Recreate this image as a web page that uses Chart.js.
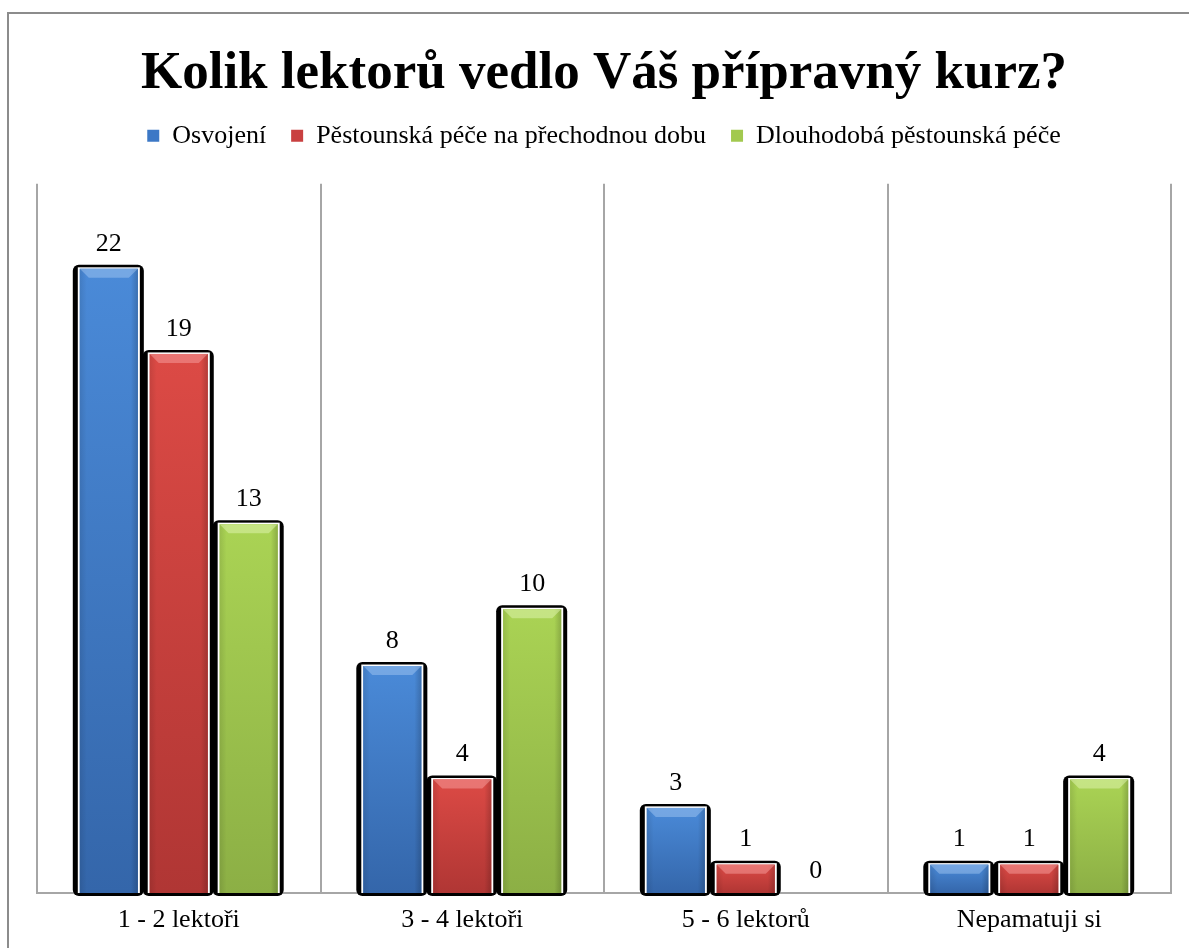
<!DOCTYPE html>
<html>
<head>
<meta charset="utf-8">
<title>Kolik lektorů vedlo Váš přípravný kurz?</title>
<script src="https://cdn.jsdelivr.net/npm/chart.js@4.4.1/dist/chart.umd.min.js"></script>
<style>
    html, body { margin: 0; padding: 0; background: #fff; }
    #wrap { width: 1189px; height: 948px; }
</style>
</head>
<body>
<div id="wrap"><canvas id="lektoriChart" width="1189" height="948"></canvas></div>
<script>
// data
const categories = ['1 - 2 lektoři', '3 - 4 lektoři', '5 - 6 lektorů', 'Nepamatuji si'];
const seriesNames = ['Osvojení', 'Pěstounská péče na přechodnou dobu', 'Dlouhodobá pěstounská péče'];
const osvojeni = [22, 8, 3, 1];
const prechodna = [19, 4, 1, 1];
const dlouhodoba = [13, 10, 0, 4];

const serif = "'Liberation Serif', 'Times New Roman', serif";

// bevel colours per series (top, bottom, bevel highlight)
const palette = [
    { mid: '#3c78c6', top: '#4a8ad8', bottom: '#3466aa', bevel: 'rgba(170,205,245,0.45)' },
    { mid: '#c94040', top: '#dc4a45', bottom: '#b03634', bevel: 'rgba(250,170,170,0.45)' },
    { mid: '#a2c94f', top: '#aad354', bottom: '#8caf45', bevel: 'rgba(225,245,180,0.5)' }
];

function barBox(bar) {
    const p = bar.getProps(['x', 'y', 'base', 'width'], true);
    return { l: p.x - p.width / 2, r: p.x + p.width / 2, t: p.y, b: p.base, w: p.width };
}

// extra room under the legend
const legendGap = {
    id: 'legendGap',
    beforeInit(chart) {
        const fit = chart.legend.fit;
        chart.legend.fit = function() {
            fit.bind(chart.legend)();
            this.height += 25;
        };
    }
};

// outer frame, black drop shadows behind bars
const framePlugin = {
    id: 'frame',
    beforeDraw(chart) {
        const ctx = chart.ctx;
        ctx.save();
        ctx.strokeStyle = '#8c8c8c';
        ctx.lineWidth = 2;
        ctx.beginPath();
        ctx.moveTo(8, 960);
        ctx.lineTo(8, 13);
        ctx.lineTo(1200, 13);
        ctx.stroke();
        ctx.restore();
    },
    beforeDatasetsDraw(chart) {
        const ctx = chart.ctx;
        ctx.save();
        chart.data.datasets.forEach((ds, i) => {
            chart.getDatasetMeta(i).data.forEach((bar, j) => {
                if (!ds.data[j]) return;
                const r = barBox(bar);
                ctx.fillStyle = '#000';
                ctx.beginPath();
                ctx.roundRect(r.l - 7, r.t - 4, r.w + 13, r.b - r.t + 7, 6);
                ctx.fill();
                ctx.fillStyle = '#fff';
                ctx.fillRect(r.l - 2, r.t - 1.5, r.w + 4, r.b - r.t + 1.5);
            });
        });
        ctx.restore();
    }
};

// bevel look + value labels
const bevelPlugin = {
    id: 'bevel',
    afterDatasetsDraw(chart) {
        const ctx = chart.ctx;
        ctx.save();
        chart.data.datasets.forEach((ds, i) => {
            const pal = palette[i];
            chart.getDatasetMeta(i).data.forEach((bar, j) => {
                const r = barBox(bar);
                const h = r.b - r.t;
                if (h > 0) {
                    const g = ctx.createLinearGradient(0, r.t, 0, r.b);
                    g.addColorStop(0, pal.top);
                    g.addColorStop(1, pal.bottom);
                    ctx.fillStyle = g;
                    ctx.fillRect(r.l, r.t, r.w, h);

                    const s = ctx.createLinearGradient(r.l, 0, r.r, 0);
                    s.addColorStop(0, 'rgba(0,0,0,0.10)');
                    s.addColorStop(0.12, 'rgba(0,0,0,0)');
                    s.addColorStop(0.88, 'rgba(0,0,0,0)');
                    s.addColorStop(1, 'rgba(0,0,0,0.18)');
                    ctx.fillStyle = s;
                    ctx.fillRect(r.l, r.t, r.w, h);

                    const bv = Math.min(9, h / 2, r.w / 2);
                    ctx.fillStyle = pal.bevel;
                    ctx.beginPath();
                    ctx.moveTo(r.l, r.t);
                    ctx.lineTo(r.r, r.t);
                    ctx.lineTo(r.r - bv, r.t + bv);
                    ctx.lineTo(r.l + bv, r.t + bv);
                    ctx.closePath();
                    ctx.fill();
                }
                ctx.fillStyle = '#000';
                ctx.font = '26px ' + serif;
                ctx.textAlign = 'center';
                ctx.textBaseline = 'middle';
                ctx.fillText(String(ds.data[j]), (r.l + r.r) / 2, r.t - (h > 0 ? 25 : 22));
            });
        });
        ctx.restore();
    }
};

const seriesValues = [osvojeni, prechodna, dlouhodoba];

const ctx = document.getElementById('lektoriChart').getContext('2d');
const lektoriChart = new Chart(ctx, {
    type: 'bar',
    data: {
        labels: categories,
        datasets: seriesNames.map((name, i) => ({
            label: name,
            data: seriesValues[i],
            backgroundColor: palette[i].mid,
            borderWidth: 0,
            categoryPercentage: 0.74,
            barPercentage: 0.83
        }))
    },
    options: {
        responsive: false,
        animation: false,
        devicePixelRatio: 1,
        layout: {
            padding: { top: 12, left: 37, right: 18, bottom: 0 }
        },
        plugins: {
            title: {
                display: true,
                text: 'Kolik lektorů vedlo Váš přípravný kurz?',
                color: '#000',
                font: { family: serif, size: 53, weight: 'bold', lineHeight: 0.9 },
                padding: { top: 38, bottom: 0 }
            },
            legend: {
                position: 'top',
                labels: {
                    color: '#000',
                    font: { family: serif, size: 26 },
                    boxWidth: 12,
                    boxHeight: 12,
                    padding: 25
                }
            },
            tooltip: { enabled: false }
        },
        scales: {
            x: {
                grid: {
                    color: '#a6a6a6',
                    lineWidth: 2,
                    drawTicks: false,
                    tickLength: 0
                },
                border: { color: '#a6a6a6', width: 2 },
                ticks: {
                    color: '#000',
                    font: { family: serif, size: 26, lineHeight: 1 },
                    padding: 14.5
                }
            },
            y: {
                display: false,
                min: 0,
                max: 25
            }
        }
    },
    plugins: [legendGap, framePlugin, bevelPlugin]
});
</script>
</body>
</html>
